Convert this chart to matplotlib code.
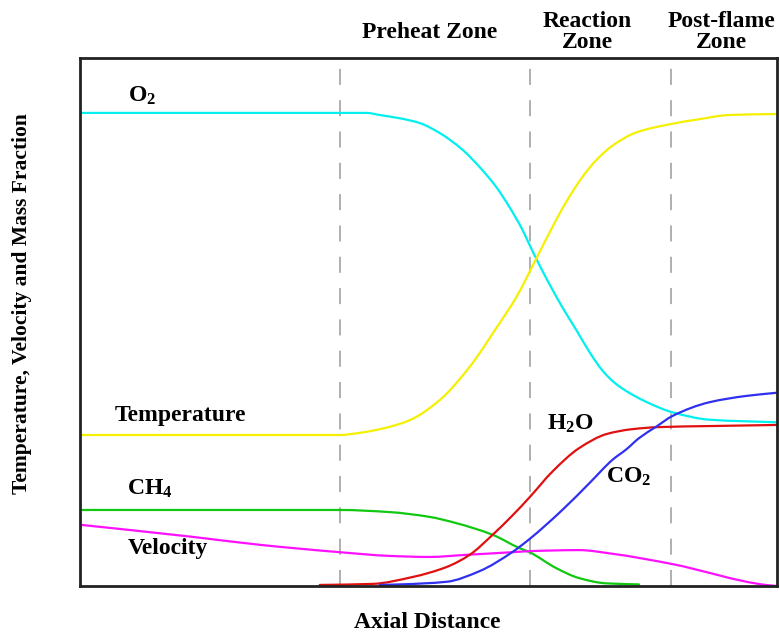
import numpy as np
import matplotlib
matplotlib.use("Agg")
import matplotlib.pyplot as plt
from matplotlib.path import Path
from matplotlib.patches import PathPatch

plt.rcParams["font.family"] = ["Liberation Serif", "DejaVu Serif"]
plt.rcParams["font.weight"] = "bold"
plt.rcParams["mathtext.default"] = "regular"

# Normalised axial distance (0-100) and normalised profile values (0-100)
o2_x = [0, 41.1, 43.0, 45.8, 48.7, 51.6, 54.9, 57.7, 59.7, 61.6, 63.5, 64.5, 66.3, 69.2,
        71.2, 73.1, 74.9, 76.6, 78.4, 81.2, 85.0, 90.3, 100]
o2_y = [89.6, 89.6, 89.2, 88.6, 87.7, 85.8, 82.6, 78.8, 75.6, 71.8, 67.4, 64.6, 59.8, 52.8,
        48.5, 44.3, 40.9, 38.6, 36.9, 34.9, 32.9, 31.5, 31.0]

temp_x = [0, 37.2, 40.1, 43.7, 47.3, 51.6, 55.9, 59.7, 62.6, 65.5, 68.3, 70.2, 72.1, 74.1,
          76.4, 79.8, 84.8, 88.8, 93.1, 100]
temp_y = [28.6, 28.6, 29.0, 29.9, 31.4, 35.2, 41.5, 48.8, 54.7, 62.1, 69.3, 73.7, 77.5, 80.7,
          83.4, 85.9, 87.5, 88.4, 89.2, 89.4]

ch4_x = [0, 28.7, 37.3, 44.4, 50.1, 54.0, 59.2, 63.0, 64.5, 68.3, 71.6, 75.5, 80.2]
ch4_y = [14.4, 14.4, 14.4, 14.0, 13.1, 11.9, 9.7, 7.2, 6.4, 3.4, 1.5, 0.5, 0.3]

vel_x = [0, 16.2, 25.8, 37.3, 44.4, 50.1, 55.4, 62.0, 64.5, 71.6, 76.4, 84.8, 98.4, 100]
vel_y = [11.6, 9.3, 7.8, 6.4, 5.7, 5.5, 5.9, 6.4, 6.6, 6.8, 6.1, 4.2, 0.2, 0.0]

h2o_x = [34.4, 42.0, 47.7, 52.6, 55.9, 59.2, 62.0, 64.5, 67.8, 71.6, 75.6, 79.2, 83.1, 90.7, 100]
h2o_y = [0.2, 0.4, 1.7, 3.6, 5.9, 9.7, 13.3, 16.8, 21.7, 26.1, 28.8, 29.7, 30.1, 30.3, 30.5]

co2_x = [43.0, 45.9, 52.6, 57.3, 62.0, 64.5, 69.2, 73.1, 76.4, 78.4, 80.2, 82.7, 85.0, 90.3,
         95.6, 100]
co2_y = [0.2, 0.3, 0.8, 2.8, 6.4, 8.9, 14.4, 19.5, 23.9, 25.9, 28.0, 30.2, 32.2, 34.8,
         36.0, 36.6]

zone_bounds = [37.3, 64.5, 84.8]


def smooth_path(xs, ys):
    """Cubic Bezier path through the points with shape-preserving tangents."""
    x = np.asarray(xs, float)
    y = np.asarray(ys, float)
    h = np.diff(x)
    d = np.diff(y) / h
    m = np.zeros_like(x)
    for i in range(1, len(x) - 1):
        if d[i - 1] * d[i] > 0:
            w1 = 2 * h[i] + h[i - 1]
            w2 = h[i] + 2 * h[i - 1]
            m[i] = (w1 + w2) / (w1 / d[i - 1] + w2 / d[i])
    m[0] = d[0]
    m[-1] = d[-1]
    verts = [(x[0], y[0])]
    codes = [Path.MOVETO]
    for i in range(len(h)):
        verts += [(x[i] + h[i] / 3, y[i] + m[i] * h[i] / 3),
                  (x[i + 1] - h[i] / 3, y[i + 1] - m[i + 1] * h[i] / 3),
                  (x[i + 1], y[i + 1])]
        codes += [Path.CURVE4] * 3
    return Path(verts, codes)


fig = plt.figure(figsize=(7.8, 6.34), dpi=100)
ax = fig.add_axes([80 / 780, (634 - 586) / 634, 697 / 780, 528 / 634])
ax.set_xlim(0, 100)
ax.set_ylim(0, 100)
ax.set_xticks([])
ax.set_yticks([])
for sp in ax.spines.values():
    sp.set_linewidth(2.0)
    sp.set_color("#222222")
    sp.set_zorder(5)

for xb in zone_bounds:
    ax.axvline(xb, color="#9a9a9a", lw=1.1, ls=(0, (10.5, 10)), zorder=1)

series = [
    (o2_x, o2_y, "#00f0f0"),
    (temp_x, temp_y, "#f5f000"),
    (ch4_x, ch4_y, "#10c810"),
    (vel_x, vel_y, "#ff10ff"),
    (h2o_x, h2o_y, "#e01010"),
    (co2_x, co2_y, "#3030f0"),
]
for xs, ys, c in series:
    ax.add_patch(PathPatch(smooth_path(xs, ys), fill=False, edgecolor=c,
                           lw=1.6, zorder=3, capstyle="round"))

fs = 17
kw = dict(fontsize=fs, fontweight="bold", color="black", va="baseline", ha="left")
ax.text(6.9, 91.7, "O$_2$", **kw)
ax.text(5.0, 31.3, "Temperature", **kw)
ax.text(6.7, 17.2, "CH$_4$", **kw)
ax.text(6.9, 6.1, "Velocity", **kw)
ax.text(67.0, 29.6, "H$_2$O", **kw)
ax.text(75.5, 19.5, "CO$_2$", **kw)

zkw = dict(fontsize=fs, fontweight="bold", ha="center", va="center",
           linespacing=1.0, clip_on=False)
ax.text(50.1, 104.9, "Preheat Zone", **zkw)
ax.text(72.8, 104.9, "Reaction\nZone", **zkw)
ax.text(92.0, 104.9, "Post-flame\nZone", **zkw)

fig.text(427 / 780, 1 - 623 / 634, "Axial Distance", fontsize=fs,
         fontweight="bold", ha="center", va="center")
fig.text(22 / 780, 1 - 304 / 634, "Temperature, Velocity and Mass Fraction",
         fontsize=15.5, fontweight="bold", rotation=90, ha="center", va="center")

fig.savefig("out.png", dpi=100)
